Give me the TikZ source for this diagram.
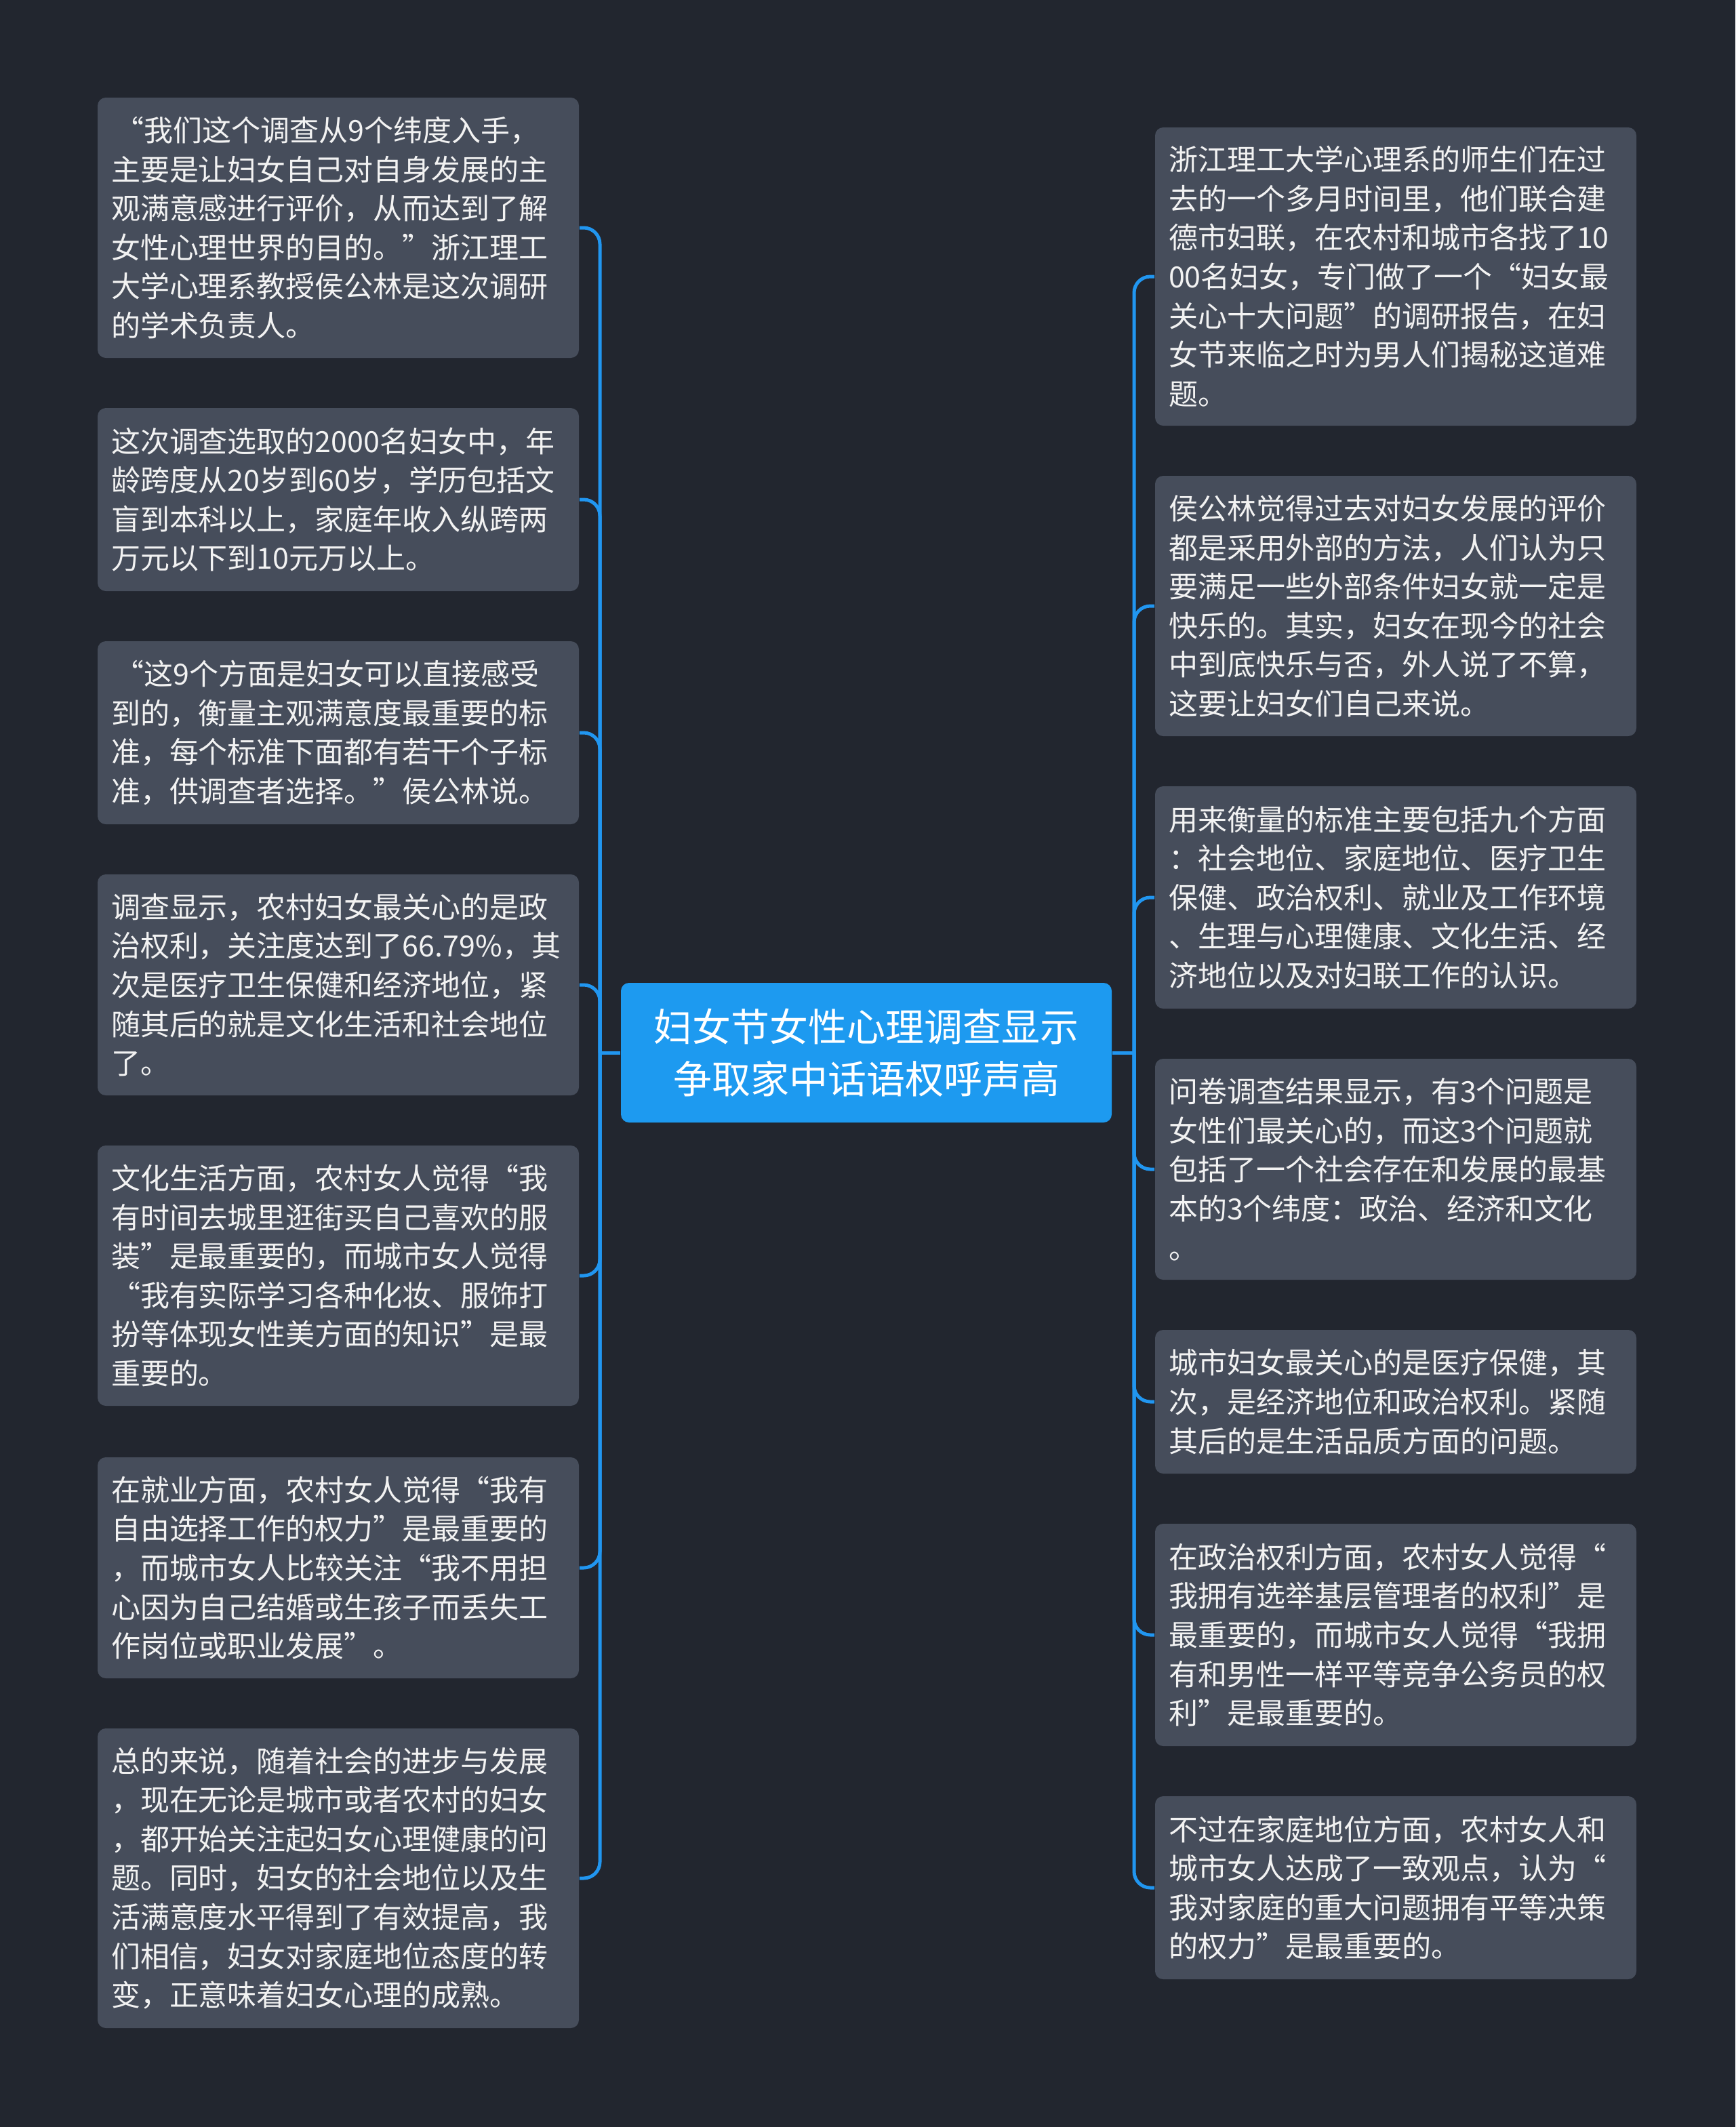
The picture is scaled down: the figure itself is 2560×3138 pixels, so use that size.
\documentclass[tikz,border=0pt]{standalone}
\usepackage{fontspec}
\setmainfont{Noto Sans CJK SC}
\definecolor{bgc}{HTML}{22262F}
\definecolor{leafc}{HTML}{464D5B}
\definecolor{rootc}{HTML}{1D9AF0}
\definecolor{linec}{HTML}{2196F0}
\definecolor{txtc}{HTML}{F2F2F2}
\tikzset{
  leaf/.style={fill=leafc, rounded corners=3pt, text=txtc, align=left,
    text width=167.5pt, inner xsep=5pt, inner ysep=0pt,
    font=\fontsize{10.75pt}{14.4pt}\selectfont},
  rootnode/.style={fill=rootc, rounded corners=3pt, text=white, align=center,
    minimum width=181pt, minimum height=51.5pt, inner sep=0pt,
    font=\fontsize{14.25pt}{19.25pt}\selectfont},
  conn/.style={draw=linec, line width=1.25pt, rounded corners=6pt}
}
\begin{document}
\begin{tikzpicture}[x=0.25pt,y=-0.25pt]
\fill[bgc] (0,0) rectangle (2560,3138);
\useasboundingbox (0,0) rectangle (2560,3138);

\node[rootnode] (c) at (1278,1553) {妇女节女性心理调查显示\\争取家中话语权呼声高};

% left
\node[leaf, minimum height=96pt] (l1) at (499,336) {\hspace*{1.5pt}“我们这个调查从9个纬度入手，\\主要是让妇女自己对自身发展的主\\观满意感进行评价，从而达到了解\\女性心理世界的目的。”浙江理工\\大学心理系教授侯公林是这次调研\\的学术负责人。};
\node[leaf, minimum height=67.5pt] (l2) at (499,737) {这次调查选取的2000名妇女中，年\\龄跨度从20岁到60岁，学历包括文\\盲到本科以上，家庭年收入纵跨两\\万元以下到10元万以上。};
\node[leaf, minimum height=67.5pt] (l3) at (499,1081) {\hspace*{1.5pt}“这9个方面是妇女可以直接感受\\到的，衡量主观满意度最重要的标\\准，每个标准下面都有若干个子标\\准，供调查者选择。”侯公林说。};
\node[leaf, minimum height=81.5pt] (l4) at (499,1453) {调查显示，农村妇女最关心的是政\\治权利，关注度达到了66.79\%，其\\次是医疗卫生保健和经济地位，紧\\随其后的就是文化生活和社会地位\\了。};
\node[leaf, minimum height=96pt] (l5) at (499,1882) {文化生活方面，农村女人觉得“我\\有时间去城里逛街买自己喜欢的服\\装”是最重要的，而城市女人觉得\\“我有实际学习各种化妆、服饰打\\扮等体现女性美方面的知识”是最\\重要的。};
\node[leaf, minimum height=81.5pt] (l6) at (499,2313) {在就业方面，农村女人觉得“我有\\自由选择工作的权力”是最重要的\\，而城市女人比较关注“我不用担\\心因为自己结婚或生孩子而丢失工\\作岗位或职业发展”。};
\node[leaf, minimum height=110.5pt] (l7) at (499,2771) {总的来说，随着社会的进步与发展\\，现在无论是城市或者农村的妇女\\，都开始关注起妇女心理健康的问\\题。同时，妇女的社会地位以及生\\活满意度水平得到了有效提高，我\\们相信，妇女对家庭地位态度的转\\变，正意味着妇女心理的成熟。};

% right
\node[leaf, minimum height=110pt] (r1) at (2059,408) {浙江理工大学心理系的师生们在过\\去的一个多月时间里，他们联合建\\德市妇联，在农村和城市各找了10\\00名妇女，专门做了一个“妇女最\\关心十大问题”的调研报告，在妇\\女节来临之时为男人们揭秘这道难\\题。};
\node[leaf, minimum height=96pt] (r2) at (2059,894) {侯公林觉得过去对妇女发展的评价\\都是采用外部的方法，人们认为只\\要满足一些外部条件妇女就一定是\\快乐的。其实，妇女在现今的社会\\中到底快乐与否，外人说了不算，\\这要让妇女们自己来说。};
\node[leaf, minimum height=82pt] (r3) at (2059,1324) {用来衡量的标准主要包括九个方面\\：社会地位、家庭地位、医疗卫生\\保健、政治权利、就业及工作环境\\、生理与心理健康、文化生活、经\\济地位以及对妇联工作的认识。};
\node[leaf, minimum height=81.5pt] (r4) at (2059,1725) {问卷调查结果显示，有3个问题是\\女性们最关心的，而这3个问题就\\包括了一个社会存在和发展的最基\\本的3个纬度：政治、经济和文化\\。};
\node[leaf, minimum height=53pt] (r5) at (2059,2068) {城市妇女最关心的是医疗保健，其\\次，是经济地位和政治权利。紧随\\其后的是生活品质方面的问题。};
\node[leaf, minimum height=82pt] (r6) at (2059,2412) {在政治权利方面，农村女人觉得“\\我拥有选举基层管理者的权利”是\\最重要的，而城市女人觉得“我拥\\有和男性一样平等竞争公务员的权\\利”是最重要的。};
\node[leaf, minimum height=67.5pt] (r7) at (2059,2785) {不过在家庭地位方面，农村女人和\\城市女人达成了一致观点，认为“\\我对家庭的重大问题拥有平等决策\\的权力”是最重要的。};

% connectors
\coordinate (lj) at (885,1553);
\coordinate (rj) at (1673,1553);
\draw[conn] (c.west) -- (lj);
\draw[conn] (c.east) -- (rj);
\foreach \n in {l1,l2,l3,l4,l5,l6,l7}{
  \draw[conn] (lj) |- (\n.east);
}
\foreach \n in {r1,r2,r3,r4,r5,r6,r7}{
  \draw[conn] (rj) |- (\n.west);
}
\end{tikzpicture}
\end{document}
